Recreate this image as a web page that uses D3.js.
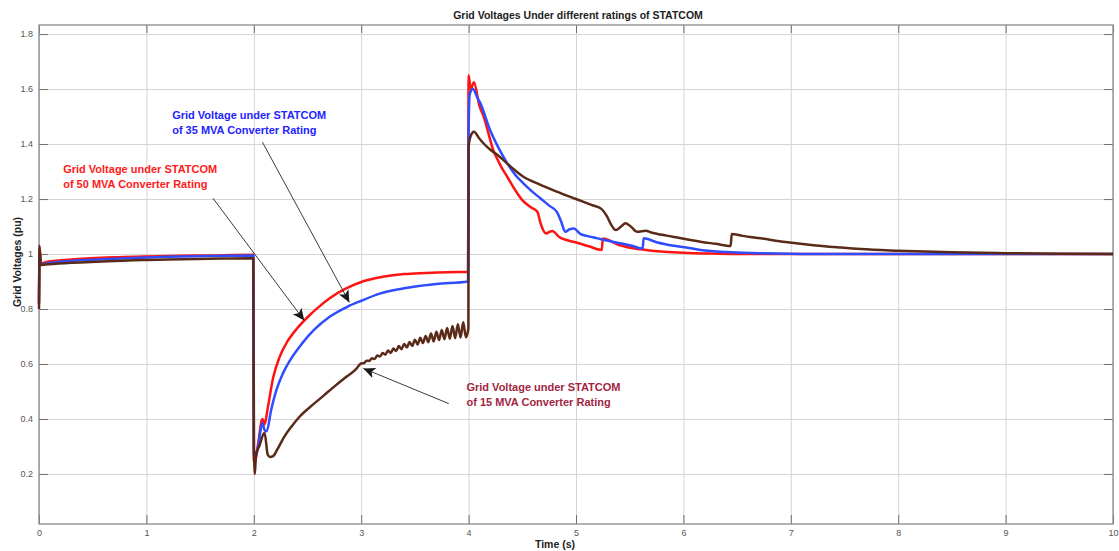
<!DOCTYPE html>
<meta charset="utf-8" />
<script src="https://d3js.org/d3.v7.min.js"></script>
<style>
  body { margin: 0; background: #fff; }
  text { font-family: "Liberation Sans", Arial, sans-serif; }
</style>
<div id="chart"></div>
<script>
  // Series values: [time (s), voltage (pu)]
  const rating50 = [
    [0, 0.82], [0.006, 1.02], [0.02, 0.965], [0.06, 0.97], [0.3, 0.98], [0.7, 0.988],
    [1.2, 0.993], [1.6, 0.995], [1.995, 0.997],
    [2.0, 0.25], [2.01, 0.24], [2.04, 0.31], [2.08, 0.40], [2.1, 0.38], [2.13, 0.44],
    [2.18, 0.55], [2.24, 0.625], [2.31, 0.68], [2.4, 0.728], [2.5, 0.77], [2.6, 0.806],
    [2.71, 0.84], [2.85, 0.873], [3.02, 0.901], [3.2, 0.917], [3.4, 0.927], [3.6, 0.931],
    [3.8, 0.934], [3.995, 0.935],
    [4.0, 1.65], [4.02, 1.6], [4.05, 1.625], [4.1, 1.54], [4.14, 1.50], [4.23, 1.378],
    [4.3, 1.32], [4.36, 1.281], [4.43, 1.235], [4.5, 1.196], [4.58, 1.17], [4.64, 1.154],
    [4.67, 1.112], [4.72, 1.075], [4.75, 1.08], [4.78, 1.084], [4.84, 1.063], [4.92, 1.05],
    [5.01, 1.041], [5.12, 1.028], [5.24, 1.015],
    [5.25, 1.056], [5.4, 1.033], [5.6, 1.017], [5.79, 1.009], [6.0, 1.005], [6.25, 1.002],
    [6.6, 1.0], [7, 1.0], [10, 1.0]
  ];

  const rating35 = [
    [0, 0.82], [0.006, 1.0], [0.02, 0.962], [0.06, 0.965], [0.3, 0.975], [0.7, 0.983],
    [1.2, 0.99], [1.6, 0.993], [1.995, 0.995],
    [2.0, 0.27], [2.015, 0.26], [2.04, 0.30], [2.08, 0.385], [2.1, 0.36], [2.12, 0.355],
    [2.16, 0.43], [2.21, 0.505], [2.27, 0.565], [2.34, 0.615], [2.45, 0.675], [2.56, 0.724],
    [2.7, 0.77], [2.87, 0.808], [3.0, 0.83], [3.18, 0.857], [3.35, 0.872], [3.49, 0.881],
    [3.7, 0.891], [3.995, 0.90],
    [4.0, 1.45], [4.01, 1.58], [4.04, 1.6], [4.08, 1.57], [4.11, 1.548], [4.2, 1.451],
    [4.28, 1.385], [4.36, 1.33], [4.43, 1.29], [4.51, 1.257], [4.59, 1.228], [4.67, 1.202],
    [4.75, 1.176], [4.82, 1.154], [4.86, 1.12], [4.9, 1.081], [4.94, 1.09], [4.98, 1.093],
    [5.04, 1.073], [5.1, 1.066], [5.2, 1.057], [5.3, 1.048], [5.41, 1.039], [5.52, 1.03],
    [5.62, 1.02],
    [5.63, 1.057], [5.75, 1.043], [5.91, 1.03], [6.05, 1.022], [6.16, 1.015], [6.4, 1.007],
    [6.7, 1.003], [7.2, 1.0], [10, 1.0]
  ];

  const rating15 = [
    [0, 0.80], [0.005, 1.03], [0.015, 0.96], [0.06, 0.962], [0.3, 0.968], [0.7, 0.975],
    [1.2, 0.98], [1.6, 0.983], [1.995, 0.985],
    [2.002, 0.30], [2.01, 0.20], [2.02, 0.27], [2.05, 0.30], [2.1, 0.35], [2.13, 0.27],
    [2.15, 0.262], [2.18, 0.265], [2.22, 0.29], [2.28, 0.333], [2.35, 0.372], [2.43, 0.41],
    [2.55, 0.452], [2.65, 0.485], [2.74, 0.515], [2.85, 0.55], [2.95, 0.58],
    [3.0, 0.602], [3.025, 0.603], [3.05, 0.612], [3.075, 0.611], [3.1, 0.621], [3.125, 0.618],
    [3.15, 0.631], [3.175, 0.627], [3.2, 0.640], [3.225, 0.634], [3.25, 0.649], [3.275, 0.640],
    [3.3, 0.656], [3.325, 0.647], [3.35, 0.665], [3.375, 0.654], [3.4, 0.673], [3.425, 0.660],
    [3.45, 0.680], [3.475, 0.666], [3.5, 0.688], [3.525, 0.671], [3.55, 0.695], [3.575, 0.676],
    [3.6, 0.702], [3.625, 0.679], [3.65, 0.711], [3.675, 0.682], [3.7, 0.717], [3.725, 0.687],
    [3.75, 0.724], [3.775, 0.690], [3.8, 0.731], [3.825, 0.692], [3.85, 0.738], [3.875, 0.694],
    [3.9, 0.745], [3.925, 0.696], [3.95, 0.752], [3.975, 0.697], [3.998, 0.73],
    [4.0, 1.39], [4.02, 1.43], [4.05, 1.445], [4.1, 1.42], [4.14, 1.402], [4.2, 1.38],
    [4.27, 1.36], [4.4, 1.315], [4.51, 1.281], [4.65, 1.255], [4.82, 1.227], [5.0, 1.20],
    [5.15, 1.178], [5.23, 1.166], [5.29, 1.136], [5.33, 1.105], [5.37, 1.087], [5.42, 1.10],
    [5.46, 1.112], [5.51, 1.10], [5.57, 1.081], [5.65, 1.085], [5.7, 1.078], [5.76, 1.073],
    [5.9, 1.063], [6.16, 1.045], [6.3, 1.037], [6.44, 1.029],
    [6.45, 1.073], [6.55, 1.066], [6.72, 1.057], [6.95, 1.044], [7.19, 1.033], [7.45, 1.024],
    [7.65, 1.018], [8.0, 1.012], [8.5, 1.006], [9.0, 1.003], [9.5, 1.001], [10, 1.0]
  ];

  const xTicks = [0, 1, 2, 3, 4, 5, 6, 7, 8, 9, 10];
  const yTicks = [0.2, 0.4, 0.6, 0.8, 1, 1.2, 1.4, 1.6, 1.8];

  const W = 1119, H = 551;
  const margin = { top: 25, right: 6, bottom: 27, left: 39 },
    width = W - margin.left - margin.right,
    height = H - margin.top - margin.bottom;

  const root = d3.select("#chart").append("svg")
    .attr("width", W).attr("height", H)
    .style("background", "#fff");

  const svg = root.append("g")
    .attr("transform", `translate(${margin.left},${margin.top})`);

  const x = d3.scaleLinear().domain([0, 10]).range([0, width]);
  const y = d3.scaleLinear().domain([0.018, 1.833]).range([height, 0]);

  // grid
  svg.append("g")
    .attr("transform", `translate(0,${height})`)
    .call(d3.axisBottom(x).tickValues(xTicks).tickSize(-height).tickFormat(""))
    .call(g => g.select(".domain").remove())
    .selectAll("line").attr("stroke", "#d4d4d4");

  svg.append("g")
    .call(d3.axisLeft(y).tickValues(yTicks).tickSize(-width).tickFormat(""))
    .call(g => g.select(".domain").remove())
    .selectAll("line").attr("stroke", "#d4d4d4");

  // axes with inward ticks
  const styleAxis = g => {
    g.select(".domain").remove();
    g.selectAll("line").attr("stroke", "#707070");
    g.selectAll("text").attr("fill", "#555").style("font-size", "9px")
      .style("font-family", "'Liberation Sans', Arial, sans-serif");
  };

  svg.append("g")
    .attr("transform", `translate(0,${height})`)
    .call(d3.axisBottom(x).tickValues(xTicks).tickSize(-9).tickPadding(6).tickFormat(d3.format("d")))
    .call(styleAxis);

  svg.append("g")
    .call(d3.axisTop(x).tickValues(xTicks).tickSize(-8).tickFormat(""))
    .call(styleAxis);

  svg.append("g")
    .call(d3.axisLeft(y).tickValues(yTicks).tickSize(-9).tickPadding(6).tickFormat(d3.format("~g")))
    .call(styleAxis);

  svg.append("g")
    .attr("transform", `translate(${width},0)`)
    .call(d3.axisRight(y).tickValues(yTicks).tickSize(-9).tickFormat(""))
    .call(styleAxis);

  svg.append("rect")
    .attr("width", width).attr("height", height)
    .attr("fill", "none").attr("stroke", "#8a8a8a").attr("stroke-width", 1.3);

  // curves
  const line = d3.line()
    .x(d => x(d[0]))
    .y(d => y(d[1]))
    .curve(d3.curveMonotoneX);

  const series = [
    { data: rating50, color: "#ff1414" },
    { data: rating35, color: "#2f4cff" },
    { data: rating15, color: "#5a2a18" }
  ];

  svg.append("g")
    .selectAll("path")
    .data(series)
    .join("path")
    .attr("d", d => line(d.data))
    .attr("fill", "none")
    .attr("stroke", d => d.color)
    .attr("stroke-width", 2.5)
    .attr("stroke-linejoin", "round");

  // arrows + annotation text
  root.append("defs").append("marker")
    .attr("id", "arrow")
    .attr("viewBox", "0 -5 10 10")
    .attr("refX", 10).attr("refY", 0)
    .attr("markerWidth", 12).attr("markerHeight", 12)
    .attr("markerUnits", "userSpaceOnUse")
    .attr("orient", "auto")
    .append("path")
    .attr("d", "M0,-4.5L10,0L0,4.5L2.5,0Z")
    .attr("fill", "#1a1a1a");

  const notes = [
    { lines: ["Grid Voltage under STATCOM", "of 35 MVA Converter Rating"], color: "#2323ff",
      tx: 1.24, ty: 1.49, from: [2.08, 1.407], to: [2.89, 0.824] },
    { lines: ["Grid Voltage under STATCOM", "of 50 MVA Converter Rating"], color: "#ff1a1a",
      tx: 0.225, ty: 1.293, from: [1.62, 1.203], to: [2.47, 0.758] },
    { lines: ["Grid Voltage under STATCOM", "of 15 MVA Converter Rating"], color: "#a3263f",
      tx: 3.98, ty: 0.5, from: [3.815, 0.456], to: [3.02, 0.584] }
  ];

  const note = svg.append("g").selectAll("g").data(notes).join("g");

  note.append("line")
    .attr("x1", d => x(d.from[0])).attr("y1", d => y(d.from[1]))
    .attr("x2", d => x(d.to[0])).attr("y2", d => y(d.to[1]))
    .attr("stroke", "#3a3a3a").attr("stroke-width", 1)
    .attr("marker-end", "url(#arrow)");

  note.append("text")
    .attr("x", d => x(d.tx)).attr("y", d => y(d.ty))
    .attr("fill", d => d.color)
    .style("font-size", "11px").style("font-weight", "bold")
    .selectAll("tspan")
    .data(d => d.lines)
    .join("tspan")
    .attr("x", function () { return d3.select(this.parentNode).attr("x"); })
    .attr("dy", (d, i) => i === 0 ? 0 : 14.5)
    .text(d => d);

  // titles
  root.append("text")
    .attr("x", margin.left + width / 2 + 2).attr("y", 19)
    .attr("text-anchor", "middle")
    .attr("fill", "#222")
    .style("font-size", "10.5px").style("font-weight", "bold")
    .text("Grid Voltages Under different ratings of STATCOM");

  root.append("text")
    .attr("x", 555).attr("y", 548)
    .attr("text-anchor", "middle")
    .attr("fill", "#222")
    .style("font-size", "10.5px").style("font-weight", "bold")
    .text("Time (s)");

  root.append("text")
    .attr("transform", "rotate(-90)")
    .attr("x", -262).attr("y", 21)
    .attr("text-anchor", "middle")
    .attr("fill", "#222")
    .style("font-size", "10.5px").style("font-weight", "bold")
    .text("Grid Voltages (pu)");
</script>
